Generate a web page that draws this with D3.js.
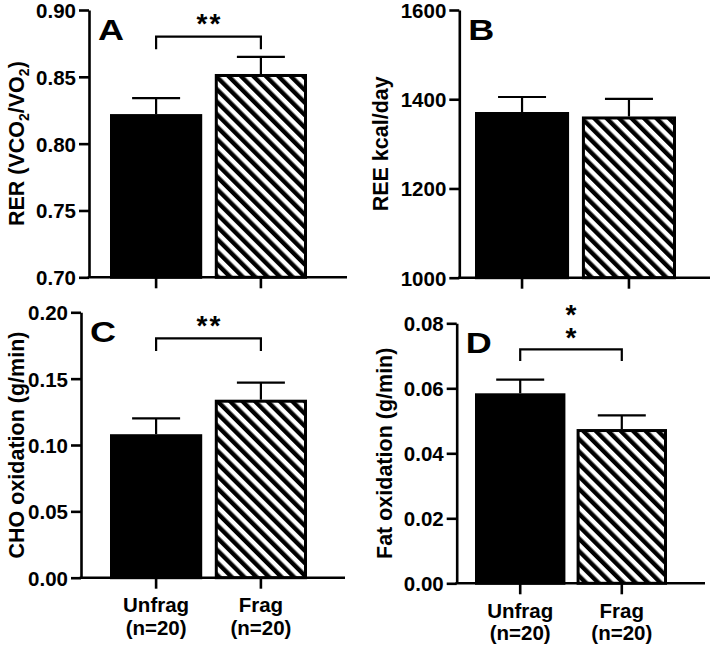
<!DOCTYPE html>
<html><head><meta charset="utf-8">
<script src="https://cdn.jsdelivr.net/npm/d3@7"></script>
<style>
html,body{margin:0;padding:0;background:#fff;}
text{font-family:"Liberation Sans",Arial,sans-serif;font-weight:bold;fill:#000;}
</style></head>
<body>
<svg id="chart" width="720" height="645"></svg>
<script>
// ---------- DATA ----------
const categories = ["Unfrag", "Frag"];
const sampleSizes = ["(n=20)", "(n=20)"];

const rerMean = [0.821, 0.851];
const rerSem  = [0.013, 0.014];
const rerTicks = [0.70, 0.75, 0.80, 0.85, 0.90];

const reeMean = [1368, 1358];
const reeSem  = [37, 43];
const reeTicks = [1000, 1200, 1400, 1600];

const choMean = [0.107, 0.133];
const choSem  = [0.013, 0.014];
const choTicks = [0.00, 0.05, 0.10, 0.15, 0.20];

const fatMean = [0.058, 0.047];
const fatSem  = [0.0047, 0.0047];
const fatTicks = [0.00, 0.02, 0.04, 0.06, 0.08];

// ---------- LAYOUT ----------
const svg = d3.select("#chart");
const defs = svg.append("defs");
const pat = defs.append("pattern")
  .attr("id","hatch").attr("patternUnits","userSpaceOnUse")
  .attr("width",8.8).attr("height",8.8)
  .attr("patternTransform","rotate(-45)");
pat.append("rect").attr("width",8.8).attr("height",8.8).attr("fill","#fff");
pat.append("rect").attr("x",0).attr("width",4.4).attr("height",8.8).attr("fill","#000");

const panels = [
  {letter:"A", mean:rerMean, sem:rerSem, ticks:rerTicks, fmt:d3.format(".2f"),
   axisX:89, yTop:10, yBot:277.3, bars:[110,307], pad:0.12, axisEnd:347,
   titleX:16, xLabels:false, sig:{y:36.7, leg:12.6, stars:"**", vertical:false, sy:33}},
  {letter:"B", mean:reeMean, sem:reeSem, ticks:reeTicks, fmt:d3.format("d"),
   axisX:459.3, yTop:10, yBot:277.7, bars:[475,676], pad:0.12, axisEnd:710,
   titleX:380, xLabels:false, sig:null},
  {letter:"C", mean:choMean, sem:choSem, ticks:choTicks, fmt:d3.format(".2f"),
   axisX:81, yTop:312.3, yBot:577.7, bars:[110,307], pad:0.12, axisEnd:345,
   titleX:16, xLabels:true, sig:{y:338.3, leg:12.7, stars:"**", vertical:false, sy:335}},
  {letter:"D", mean:fatMean, sem:fatSem, ticks:fatTicks, fmt:d3.format(".2f"),
   axisX:456.7, yTop:323.3, yBot:583.3, bars:[475,667], pad:0.11, axisEnd:705,
   titleX:384, xLabels:true, sig:{y:349.3, leg:11.7, stars:"**", vertical:true, sy:[324,347]}}
];
const titles = [
  g => { const t = g; t.append("tspan").text("RER (VCO");
         t.append("tspan").attr("font-size",14).attr("dy",5).text("2");
         t.append("tspan").attr("dy",-5).text("/VO");
         t.append("tspan").attr("font-size",14).attr("dy",5).text("2");
         t.append("tspan").attr("dy",-5).text(")"); },
  g => g.text("REE kcal/day"),
  g => g.text("CHO oxidation (g/min)"),
  g => g.text("Fat oxidation (g/min)")
];

panels.forEach((p, i) => {
  const g = svg.append("g");
  const y = d3.scaleLinear().domain([p.ticks[0], p.ticks[p.ticks.length-1]]).range([p.yBot, p.yTop]);
  const x = d3.scaleBand().domain(categories).range(p.bars).paddingInner(p.pad);
  const bw = x.bandwidth();

  // bars
  g.selectAll("rect.bar").data(categories).enter().append("rect")
    .attr("class","bar")
    .attr("x", d => x(d) + 1.5)
    .attr("width", bw - 3)
    .attr("y", (d,j) => y(p.mean[j]))
    .attr("height", (d,j) => y(p.ticks[0]) - y(p.mean[j]))
    .attr("fill", (d,j) => j === 0 ? "#000" : "url(#hatch)")
    .attr("stroke","#000").attr("stroke-width",3);

  // error bars (upper only)
  categories.forEach((c,j) => {
    const cx = x(c) + bw/2;
    g.append("line").attr("x1",cx).attr("x2",cx)
      .attr("y1", y(p.mean[j]) - 1.5).attr("y2", y(p.mean[j] + p.sem[j]))
      .attr("stroke","#000").attr("stroke-width",2.2);
    g.append("line").attr("x1",cx-24).attr("x2",cx+24)
      .attr("y1", y(p.mean[j] + p.sem[j])).attr("y2", y(p.mean[j] + p.sem[j]))
      .attr("stroke","#000").attr("stroke-width",2.2);
  });

  // y axis
  const ya = g.append("g").attr("transform",`translate(${p.axisX},0)`)
    .call(d3.axisLeft(y).tickValues(p.ticks).tickFormat(p.fmt).tickSize(10).tickSizeOuter(0).tickPadding(3));
  ya.select(".domain").attr("stroke","#000").attr("stroke-width",2.6);
  ya.selectAll(".tick line").attr("stroke","#000").attr("stroke-width",2.6);
  ya.selectAll(".tick text").attr("font-size",20.5).attr("font-family",null).attr("dy","0.36em");

  // x axis
  g.append("line").attr("x1",p.axisX-1.3).attr("x2",p.axisEnd)
    .attr("y1",p.yBot).attr("y2",p.yBot).attr("stroke","#000").attr("stroke-width",2.6);
  const xa = g.append("g").attr("transform",`translate(0,${p.yBot})`)
    .call(d3.axisBottom(x).tickSize(11).tickSizeOuter(0).tickFormat(""));
  xa.select(".domain").remove();
  xa.selectAll(".tick line").attr("stroke","#000").attr("stroke-width",2.6);
  if (p.xLabels) {
    categories.forEach((c,j) => {
      const t = g.append("text").attr("text-anchor","middle").attr("font-size",20.5)
        .attr("x", x(c) + bw/2);
      t.append("tspan").attr("x", x(c)+bw/2).attr("y", p.yBot + 34.5).text(c);
      t.append("tspan").attr("x", x(c)+bw/2).attr("y", p.yBot + 57).text(sampleSizes[j]);
    });
  }

  // y title
  const tt = g.append("text").attr("text-anchor","middle").attr("font-size",21.5)
    .attr("transform",`translate(${p.titleX + 7.5},${(p.yTop+p.yBot)/2}) rotate(-90)`);
  titles[i](tt);

  // panel letter
  g.append("text").attr("font-size",30)
    .attr("transform",`translate(${p.axisX + 9},${p.yTop + 29.5}) scale(1.2,1)`)
    .text(p.letter);

  // significance
  if (p.sig) {
    const x1 = x(categories[0]) + bw/2, x2 = x(categories[1]) + bw/2;
    g.append("path")
      .attr("d", `M${x1},${p.sig.y + p.sig.leg}V${p.sig.y}H${x2}V${p.sig.y + p.sig.leg}`)
      .attr("fill","none").attr("stroke","#000").attr("stroke-width",2.2);
    const mx = (x1+x2)/2;
    if (!p.sig.vertical) {
      g.append("text").attr("text-anchor","middle").attr("font-size",28)
        .attr("letter-spacing",2).attr("x",mx+1).attr("y",p.sig.sy).text(p.sig.stars);
    } else {
      const st = g.append("text").attr("text-anchor","middle").attr("font-size",28);
      p.sig.sy.forEach(sy => st.append("tspan").attr("x",mx).attr("y",sy).text("*"));
    }
  }
});
</script>
</body></html>
